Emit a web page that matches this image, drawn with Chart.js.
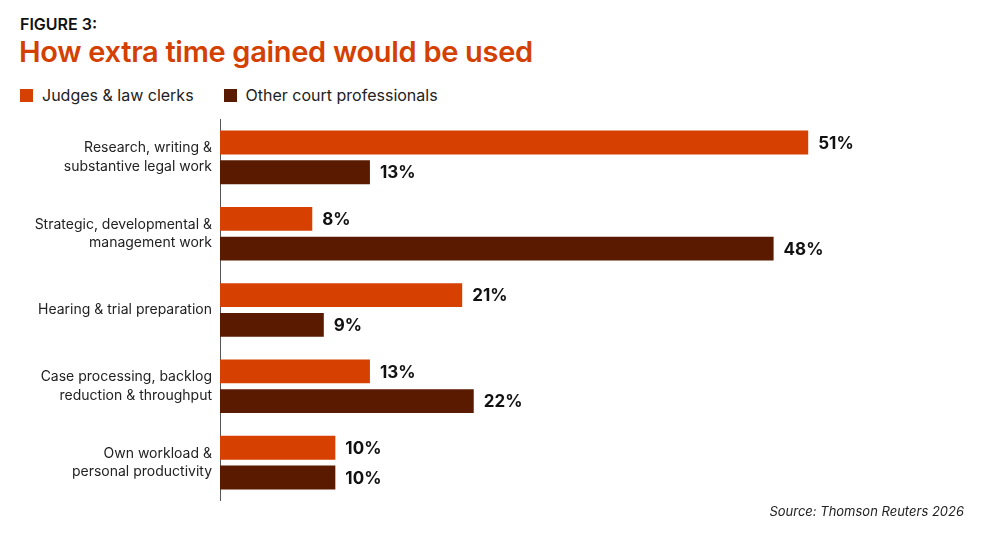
<!DOCTYPE html>
<html>
<head>
<meta charset="utf-8">
<script src="https://cdn.jsdelivr.net/npm/chart.js@4"></script>
<style>
  body { margin: 0; width: 1000px; height: 540px; background: #fff; font-family: Inter, "Noto Sans", sans-serif; position: relative; overflow: hidden; }
  .fig { position: absolute; left: 20px; top: 14px; font-size: 16px; font-weight: 600; color: #111; }
  .title { position: absolute; left: 19px; top: 34px; font-size: 29px; font-weight: 600; color: #d34000; letter-spacing: -0.3px; }
  .legend { position: absolute; left: 20px; top: 85px; font-size: 16px; color: #222; display: flex; gap: 30px; }
  .legend span { display: inline-flex; align-items: center; }
  .legend i { display: inline-block; width: 13px; height: 13px; margin-right: 9px; }
  .source { position: absolute; right: 36px; top: 503px; font-size: 13px; font-style: italic; color: #222; }
  #wrap { position: absolute; left: 0; top: 93px; width: 1000px; height: 434px; }
</style>
</head>
<body>
<div class="fig">FIGURE 3:</div>
<div class="title">How extra time gained would be used</div>
<div class="legend">
  <span><i style="background:#d64000"></i>Judges &amp; law clerks</span>
  <span><i style="background:#5a1a00"></i>Other court professionals</span>
</div>
<div id="wrap"><canvas id="chart"></canvas></div>
<div class="source">Source: Thomson Reuters 2026</div>
<script>
// ── Data ────────────────────────────────────────────────────────────────
const categories = [
    ['Research, writing &', 'substantive legal work'],
    ['Strategic, developmental &', 'management work'],
    ['Hearing & trial preparation'],
    ['Case processing, backlog', 'reduction & throughput'],
    ['Own workload &', 'personal productivity']
];
const judgesValues = [51, 8, 21, 13, 10];
const otherValues  = [13, 48, 9, 22, 10];

// ── Value labels at bar ends ────────────────────────────────────────────
const valueLabels = {
    id: 'valueLabels',
    afterDatasetsDraw(chart) {
        const ctx = chart.ctx;
        ctx.save();
        ctx.font = '700 17px Inter, "Noto Sans", sans-serif';
        ctx.fillStyle = '#111';
        ctx.textBaseline = 'middle';
        chart.data.datasets.forEach(function (ds, i) {
            chart.getDatasetMeta(i).data.forEach(function (bar, j) {
                ctx.fillText(ds.data[j] + '%', bar.x + 10, bar.y + 1);
            });
        });
        ctx.restore();
    }
};

new Chart(document.getElementById('chart'), {
    type: 'bar',
    data: {
        labels: categories,
        datasets: [
            { label: 'Judges & law clerks', data: judgesValues, backgroundColor: '#d64000' },
            { label: 'Other court professionals', data: otherValues, backgroundColor: '#5a1a00' }
        ]
    },
    options: {
        indexAxis: 'y',
        responsive: true,
        maintainAspectRatio: false,
        animation: false,
        layout: { padding: { top: 8, bottom: 8, right: 88, left: 0 } },
        categoryPercentage: 0.78,
        barPercentage: 0.8,
        plugins: { legend: { display: false }, tooltip: { enabled: false } },
        scales: {
            x: { display: false, min: 0, max: 60 },
            y: {
                afterFit: function (scale) { scale.width = 220; },
                grid: { display: false, drawTicks: false },
                border: { display: true, color: '#555', width: 1 },
                ticks: {
                    color: '#222',
                    padding: 8,
                    font: { family: 'Inter, "Noto Sans", sans-serif', size: 14, lineHeight: 1.3 }
                }
            }
        }
    },
    plugins: [valueLabels]
});
</script>
</body>
</html>
